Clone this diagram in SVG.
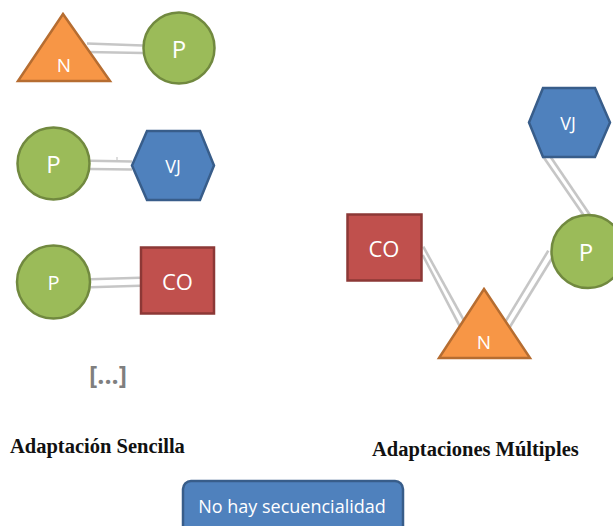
<svg xmlns="http://www.w3.org/2000/svg" width="613" height="526" viewBox="0 0 613 526">
  <style>
    .tri { fill: #f79646; stroke: #b66d31; stroke-width: 2.5; stroke-linejoin: miter; }
    .cir { fill: #9bbb59; stroke: #71893f; stroke-width: 2.5; }
    .hex { fill: #4f81bd; stroke: #385d8a; stroke-width: 2.5; }
    .sq  { fill: #c0504d; stroke: #8c3836; stroke-width: 2.5; }
    .lbl { fill: #ffffff; font-family: "Open Sans", "Liberation Sans", sans-serif; text-anchor: middle; dominant-baseline: central; }
    .link line { stroke: #c6c6c6; stroke-width: 2.6; stroke-linecap: butt; }
    .cap { font-family: "Liberation Serif", "Times New Roman", serif; font-weight: bold; font-size: 20.5px; fill: #111111; }
  </style>

  <!-- connectors -->
  <g id="connectors" class="link">
    <!-- N - P (top left) -->
    <line x1="87" y1="43.5" x2="143" y2="45.5"/>
    <line x1="87" y1="52" x2="143" y2="53"/>
    <!-- P - VJ -->
    <line x1="90" y1="160.7" x2="132" y2="161.5"/>
    <line x1="90" y1="169" x2="132" y2="169.5"/>
    <line x1="117" y1="157" x2="117" y2="162" style="stroke-width:1.2"/>
    <!-- P - CO -->
    <line x1="90" y1="279.3" x2="140" y2="277.7"/>
    <line x1="90" y1="287.3" x2="140" y2="285.7"/>
    <!-- CO - N (right) -->
    <line x1="423.3" y1="246.7" x2="465" y2="322.3"/>
    <line x1="422.7" y1="255" x2="460" y2="326.7"/>
    <!-- N - P (right) -->
    <line x1="505" y1="322.3" x2="548.3" y2="250.7"/>
    <line x1="510" y1="326.7" x2="554" y2="255"/>
    <!-- VJ - P (right) -->
    <line x1="543.3" y1="156.7" x2="585" y2="217.3"/>
    <line x1="550" y1="156" x2="590" y2="215"/>
  </g>

  <!-- left column: simple adaptations -->
  <g id="n1">
    <polygon class="tri" points="63,14 110,81 18,81"/>
    <text class="lbl" x="64" y="65" font-size="19">N</text>
  </g>
  <g id="p1">
    <circle class="cir" cx="179" cy="48" r="35.5"/>
    <text class="lbl" x="179" y="48" font-size="24">P</text>
  </g>
  <g id="p2">
    <circle class="cir" cx="53.5" cy="163.5" r="36"/>
    <text class="lbl" x="53.5" y="163.5" font-size="24">P</text>
  </g>
  <g id="vj1">
    <polygon class="hex" points="132,165.5 147,131 200,131 214,165.5 200,200 147,200"/>
    <text class="lbl" x="173" y="165.5" font-size="18">VJ</text>
  </g>
  <g id="p3">
    <circle class="cir" cx="53.5" cy="282" r="36.5"/>
    <text class="lbl" x="53.5" y="282" font-size="20">P</text>
  </g>
  <g id="co1">
    <rect class="sq" x="141" y="247.5" width="73" height="66"/>
    <text class="lbl" x="177.5" y="281" font-size="22">CO</text>
  </g>
  <g id="more">
    <text x="108" y="374" font-family="'Open Sans', 'Liberation Sans', sans-serif" font-weight="bold" font-size="25" fill="#7f7f7f" text-anchor="middle" dominant-baseline="central">[...]</text>
  </g>

  <!-- right group: multiple adaptations -->
  <g id="vj2">
    <polygon class="hex" points="529,122.5 543,88 595,88 610,122.5 595,157 543,157"/>
    <text class="lbl" x="568" y="123" font-size="18">VJ</text>
  </g>
  <g id="p4">
    <circle class="cir" cx="588" cy="251.5" r="36.5"/>
    <text class="lbl" x="586" y="251.5" font-size="24">P</text>
  </g>
  <g id="co2">
    <rect class="sq" x="347.5" y="214.5" width="74" height="66"/>
    <text class="lbl" x="384" y="247.5" font-size="22">CO</text>
  </g>
  <g id="n2">
    <polygon class="tri" points="484,289 530,358 439,358"/>
    <text class="lbl" x="484" y="342" font-size="19">N</text>
  </g>

  <!-- captions -->
  <g id="captions">
    <text class="cap" x="10" y="453">Adaptación Sencilla</text>
    <text class="cap" x="372" y="456">Adaptaciones Múltiples</text>
  </g>

  <g id="note">
    <rect x="183" y="481" width="220" height="60" rx="8" ry="8" fill="#4f81bd" stroke="#385d8a" stroke-width="2.5"/>
    <text x="292" y="506" font-family="'Open Sans', 'Liberation Sans', sans-serif" font-size="18" fill="#ffffff" text-anchor="middle" dominant-baseline="central">No hay secuencialidad</text>
  </g>
</svg>
